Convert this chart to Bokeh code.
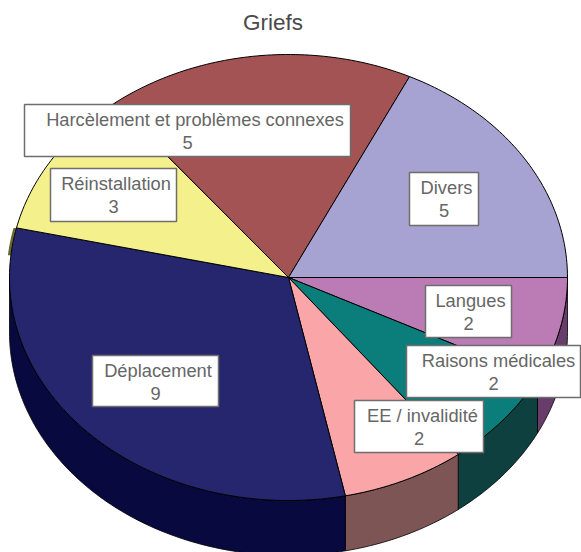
import math
import numpy as np
from bokeh.plotting import figure
from bokeh.embed import file_html
from bokeh.resources import INLINE
from bokeh.core.properties import value

title = "Griefs"
categories = ["Langues", "Raisons médicales", "EE / invalidité", "Déplacement",
              "Réinstallation", "Harcèlement et problèmes connexes", "Divers"]
values = [2, 2, 2, 9, 3, 5, 5]
top_colors = ["#BB7BB4", "#0B7D7A", "#FAA5A8", "#25266D", "#F4F08B", "#A35354", "#A6A2D1"]
side_colors = ["#693D6B", "#0D403F", "#7E5555", "#08093F", "#6A6A30", "#52292A", "#53516A"]

# label boxes: left, right, top, bottom; centre of the name line (page pixels)
box_left = [425, 406, 354, 92, 50, 24, 409]
box_right = [511, 580, 483, 218, 176, 350, 478]
box_top = [285, 345, 400, 355, 168, 104, 172]
box_bottom = [337, 397, 452, 406, 221, 156, 225]
name_x = [470, 498, 422, 157.5, 115.5, 194.5, 446]
# the original's perspective moves the front edges slightly (degrees)
edge_shift = [0, 1.1, 1.1, 1.1, 0, 0, 0, 0]

W, H = 581, 552
CX, CY, RX, RY, DEPTH = 288, 277, 279, 223, 55

p = figure(width=W, height=H, x_range=(0, W), y_range=(H, 0),
           output_backend="svg", toolbar_location=None, min_border=0,
           outline_line_color=None, background_fill_color="white", border_fill_color="white")
p.axis.visible = False
p.grid.visible = False


def rim(a0, a1):
    n = max(2, int(abs(a1 - a0) * 60))
    t = np.linspace(a0, a1, n)
    return CX + RX * np.cos(t), CY + RY * np.sin(t)


total = sum(values)
edges = np.concatenate([[0], np.cumsum(values)]) / total * 2 * math.pi + np.radians(edge_shift)

# sides of the pie, only the front half of the rim shows
for i in range(len(values)):
    a0, a1 = edges[i], min(edges[i + 1], math.pi)
    if a0 < a1:
        x, y = rim(a0, a1)
        p.patch(list(x) + list(x[::-1]), list(y) + list(y[::-1] + DEPTH),
                fill_color=side_colors[i], line_color="black", line_width=0.8)

# sliver of the Réinstallation side seen at the left edge
i = categories.index("Réinstallation")
x, y = rim(math.pi + 0.1, edges[i])
p.patch(list(x - 3) + list(x[::-1]), list(y) + list(y[::-1]),
        fill_color=side_colors[i], line_color=None)

# top faces
for i in range(len(values)):
    x, y = rim(edges[i], edges[i + 1])
    p.patch([CX] + list(x), [CY] + list(y), fill_color=top_colors[i],
            line_color="black", line_width=1)

# labels
p.quad(left=box_left, right=box_right, top=box_top, bottom=box_bottom,
       fill_color="white", line_color="#6E6E6E", line_width=1.5)
centre = [(a + b) / 2 for a, b in zip(box_left, box_right)]
name_y = [t + 14.5 for t in box_top]
value_y = [t + 38 for t in box_top]
p.text(name_x, name_y, text=categories, text_font=value("Liberation Sans"),
       text_font_size="18.3px", text_color="#666666", text_align="center", text_baseline="middle")
p.text(centre, value_y, text=[str(v) for v in values], text_font=value("Liberation Sans"),
       text_font_size="18.3px", text_color="#666666", text_align="center", text_baseline="middle")
p.text([272.5], [22], text=[title], text_font=value("Liberation Sans"), text_font_size="22.5px",
       text_color="#4A4A4A", text_align="center", text_baseline="middle")

open("out.html", "w").write(file_html(p, INLINE))
